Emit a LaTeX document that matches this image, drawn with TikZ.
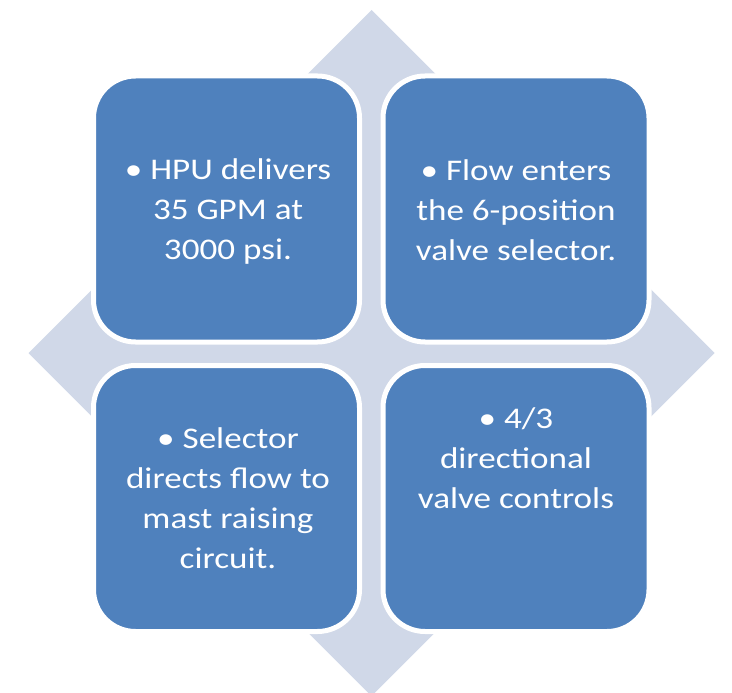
\documentclass[tikz,border=0pt]{standalone}
\usepackage{fontspec}
\setmainfont{Carlito}[FakeStretch=1.17]
\usepackage{tikz}
\usetikzlibrary{shapes, positioning}
\definecolor{boxblue}{HTML}{4F81BD}
\definecolor{diamondgray}{HTML}{D0D8E8}
\tikzstyle{quad} = [rectangle, rounded corners=42pt, fill=boxblue, draw=white, line width=5pt, minimum width=266pt, minimum height=266pt, inner sep=0pt]
\tikzstyle{txt} = [align=center, text=white, font={\fontsize{30}{40}\selectfont}, inner sep=0pt]

\begin{document}
\begin{tikzpicture}[x=1pt, y=-1pt]
			\useasboundingbox (0,0) rectangle (732,693);
			\clip (0,0) rectangle (732,693);
			% background diamond
			\fill [diamondgray] (371.5,10) -- (714.5,353) -- (371.5,696) -- (28.5,353) -- cycle;
			
			\node [quad] (hpu) at (226.5,209) {};
			\node [quad] (flow) at (516,209) {};
			\node [quad] (sel) at (226.5,498.5) {};
			\node [quad] (dir) at (516,498.5) {};
			
			\node [txt] (hputext) at (228,212) {\textbullet{} HPU delivers\\35 GPM at\\3000 psi.};
			\node [txt] (flowtext) at (516,210) {\textbullet{} Flow enters\\the 6-position\\valve selector.};
			\node [txt] (seltext) at (228,498) {\textbullet{} Selector\\directs flow to\\mast raising\\circuit.};
			\node [txt] (dirtext) at (516,458) {\textbullet{} 4/3\\directional\\valve controls};
		\end{tikzpicture}
\end{document}
